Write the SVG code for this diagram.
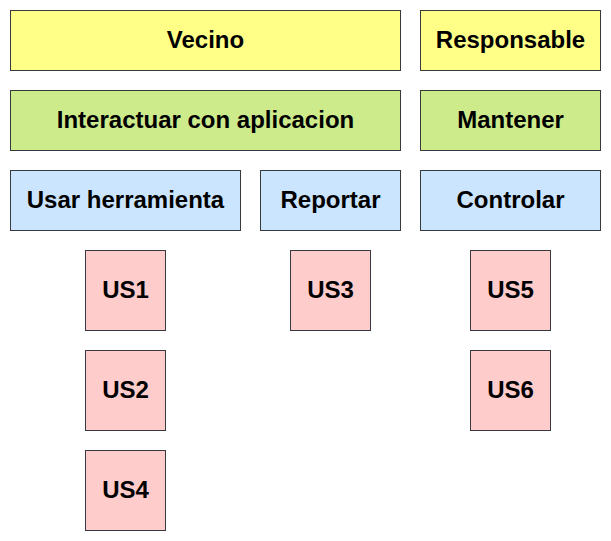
<svg xmlns="http://www.w3.org/2000/svg" width="611" height="541" viewBox="0 0 611 541">
<style>
rect{stroke:#36393d;stroke-width:1}
.y{fill:#ffff88}.g{fill:#cdeb8b}.b{fill:#cce5ff}.p{fill:#ffcccc}
text{font-family:"Liberation Sans",Arial,sans-serif;font-weight:bold;font-size:24px;fill:#000;text-anchor:middle;dominant-baseline:central}
</style>
<rect width="611" height="541" fill="#fff" style="stroke:none"/>
<g id="vecino"><rect class="y" x="10.5" y="10.5" width="390" height="60"/><text x="205.5" y="39.5">Vecino</text></g>
<g id="responsable"><rect class="y" x="420.5" y="10.5" width="180" height="60"/><text x="510.5" y="39.5">Responsable</text></g>
<g id="interactuar"><rect class="g" x="10.5" y="90.5" width="390" height="60"/><text x="205.5" y="119.5">Interactuar con aplicacion</text></g>
<g id="mantener"><rect class="g" x="420.5" y="90.5" width="180" height="60"/><text x="510.5" y="119.5">Mantener</text></g>
<g id="usar"><rect class="b" x="10.5" y="170.5" width="230" height="60"/><text x="125.5" y="199.5">Usar herramienta</text></g>
<g id="reportar"><rect class="b" x="260.5" y="170.5" width="140" height="60"/><text x="330.5" y="199.5">Reportar</text></g>
<g id="controlar"><rect class="b" x="420.5" y="170.5" width="180" height="60"/><text x="510.5" y="199.5">Controlar</text></g>
<g id="us1"><rect class="p" x="85.5" y="250.5" width="80" height="80"/><text x="125.5" y="289.5">US1</text></g>
<g id="us2"><rect class="p" x="85.5" y="350.5" width="80" height="80"/><text x="125.5" y="389.5">US2</text></g>
<g id="us4"><rect class="p" x="85.5" y="450.5" width="80" height="80"/><text x="125.5" y="489.5">US4</text></g>
<g id="us3"><rect class="p" x="290.5" y="250.5" width="80" height="80"/><text x="330.5" y="289.5">US3</text></g>
<g id="us5"><rect class="p" x="470.5" y="250.5" width="80" height="80"/><text x="510.5" y="289.5">US5</text></g>
<g id="us6"><rect class="p" x="470.5" y="350.5" width="80" height="80"/><text x="510.5" y="389.5">US6</text></g>
<g id="connectors"></g>
</svg>
